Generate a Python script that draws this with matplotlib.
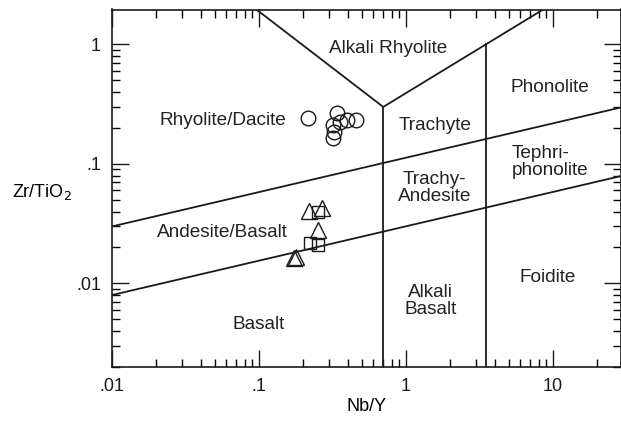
import numpy as np
import matplotlib
matplotlib.use("Agg")
import matplotlib.pyplot as plt

plt.rcParams['font.family'] = ['Liberation Sans', 'DejaVu Sans']
plt.rcParams['font.size'] = 13

# sample data (Nb/Y, Zr/TiO2)
circle_x = [0.215, 0.34, 0.355, 0.397, 0.457, 0.319, 0.324, 0.319]
circle_y = [0.243, 0.267, 0.224, 0.233, 0.233, 0.212, 0.185, 0.165]
tri_x = [0.219, 0.268, 0.252, 0.174, 0.178]
tri_y = [0.0404, 0.0428, 0.028, 0.0162, 0.0166]
sq_x = [0.252, 0.222, 0.252]
sq_y = [0.0396, 0.0218, 0.021]

# field boundaries (Winchester & Floyd)
upper_x, upper_y = [0.01, 30], [0.03, 0.3]
lower_x, lower_y = [0.01, 30], [0.008, 0.08]
rhy_x, rhy_y = [0.094, 0.7, 8.8], [2.0, 0.3, 2.0]
v1_x, v1_y = [0.7, 0.7], [0.002, 0.3]
v2_x, v2_y = [3.5, 3.5], [0.002, 1.0]

fields = [
    ("Alkali Rhyolite", 0.755, 0.92, 'center'),
    ("Rhyolite/Dacite", 0.057, 0.229, 'center'),
    ("Trachyte", 1.57, 0.208, 'center'),
    ("Phonolite", 9.5, 0.433, 'center'),
    ("Trachy-\nAndesite", 1.57, 0.063, 'center'),
    ("Tephri-\nphonolite", 5.26, 0.104, 'left'),
    ("Andesite/Basalt", 0.056, 0.0265, 'center'),
    ("Alkali\nBasalt", 1.46, 0.0071, 'center'),
    ("Foidite", 9.25, 0.0113, 'center'),
    ("Basalt", 0.10, 0.0045, 'center'),
]

fig = plt.figure(figsize=(6.21, 4.24), dpi=100)
ax = fig.add_axes([112/621, 1 - 367/424, 1 - 112/621, (367 - 9.5)/424])
ax.set_xscale('log')
ax.set_yscale('log')
ax.set_xlim(0.01, 29)
ax.set_ylim(0.002, 1.96)

lw = 1.3
for xs, ys in [(upper_x, upper_y), (lower_x, lower_y), (rhy_x, rhy_y), (v1_x, v1_y), (v2_x, v2_y)]:
    ax.plot(xs, ys, color='#1a1a1a', lw=lw, solid_joinstyle='miter')

ax.plot(circle_x, circle_y, 'o', ms=10.5, mfc='none', mec='#1a1a1a', mew=1.0)
ax.plot(tri_x, tri_y, '^', ms=12, mfc='none', mec='#1a1a1a', mew=1.0)
ax.plot(sq_x, sq_y, 's', ms=9, mfc='none', mec='#1a1a1a', mew=1.0)

for label, x, y, ha in fields:
    ax.text(x, y, label, ha=ha, va='center', color='#222222', linespacing=1.0, fontsize=13.7)

ax.set_xticks([0.01, 0.1, 1, 10])
ax.set_xticklabels(['.01', '.1', '1', '10'])
ax.set_yticks([0.01, 0.1, 1])
ax.set_yticklabels(['.01', '.1', '1'])
ax.tick_params(which='major', direction='in', length=12.5, width=1.0, top=True, right=True, pad=8, colors='#1a1a1a')
ax.tick_params(which='minor', direction='in', length=6, width=1.0, top=True, right=True)
for s in ax.spines.values():
    s.set_linewidth(1.2)
    s.set_color('#1a1a1a')

ax.set_xlabel('Nb/Y', labelpad=2)
fig.text(42/621, 1 - 192/424, 'Zr/TiO$_2$', ha='center', va='center')

fig.savefig('out.png', dpi=100)
